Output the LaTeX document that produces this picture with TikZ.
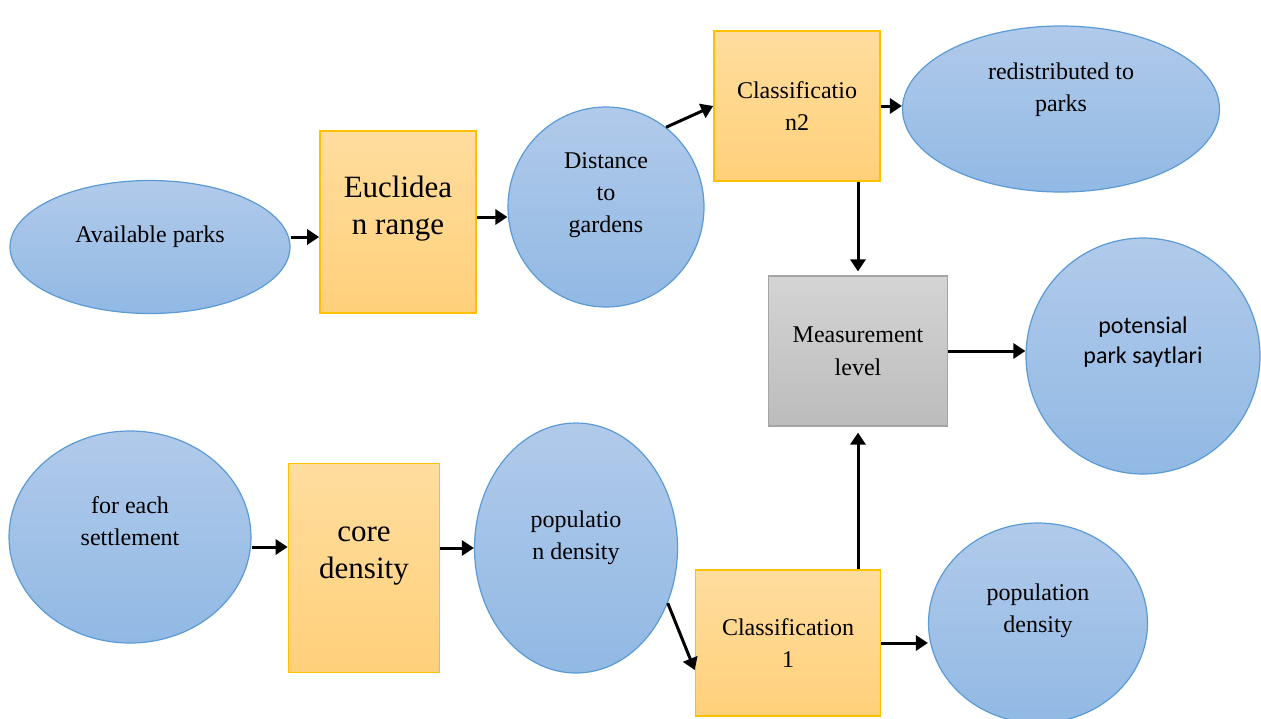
\documentclass[tikz,border=0pt]{standalone}
\usepackage{fontspec}
\setmainfont{Liberation Serif}
\newfontfamily\calibrifont{Carlito}
\usetikzlibrary{shapes.geometric,arrows.meta}
\definecolor{bluetop}{RGB}{177,202,234}
\definecolor{bluebot}{RGB}{145,185,228}
\definecolor{blueline}{RGB}{91,155,213}
\definecolor{orangetop}{RGB}{255,221,158}
\definecolor{orangebot}{RGB}{255,208,122}
\definecolor{orangeline}{RGB}{255,192,0}
\definecolor{graytop}{RGB}{212,212,212}
\definecolor{graybot}{RGB}{188,188,188}
\definecolor{grayline}{RGB}{165,165,165}

\begin{document}
\begin{tikzpicture}[x=0.5pt,y=-0.5pt,>={Triangle[length=6pt,width=7.5pt]},
  blob/.style={ellipse,draw=blueline,line width=0.6pt,top color=bluetop,bottom color=bluebot,inner sep=0pt,align=center,font=\fontsize{12}{16}\selectfont},
  tool/.style={rectangle,draw=orangeline,line width=0.8pt,top color=orangetop,bottom color=orangebot,inner sep=0pt,align=center,font=\fontsize{12}{16}\selectfont},
  big/.style={font=\fontsize{15.5}{18.5}\selectfont},
  level/.style={rectangle,draw=grayline,line width=0.6pt,top color=graytop,bottom color=graybot,inner sep=0pt,align=center,font=\fontsize{12}{16.5}\selectfont},
  lift/.style={text depth=#1},
  link/.style={->,line width=1.5pt}]
\useasboundingbox (0,0) rectangle (1261,718);
\node[blob,minimum width=140pt,minimum height=66.5pt,lift=12.5pt] (avail) at (150,247) {Available parks};
\node[tool,big,minimum width=78pt,minimum height=91pt,lift=17pt] (euclid) at (398,222) {Euclidea\\n range};
\node[blob,minimum width=98pt,minimum height=100pt,lift=14.5pt] (dist) at (606,207) {Distance\\to\\gardens};
\node[tool,minimum width=83pt,minimum height=75pt] (classtwo) at (797,106) {Classificatio\\n2};
\node[blob,minimum width=158.5pt,minimum height=83pt,lift=21.5pt] (redist) at (1061,109) {redistributed to\\parks};
\node[level,minimum width=89.5pt,minimum height=75pt] (measure) at (858,351) {Measurement\\level};
\node[blob,minimum width=117pt,minimum height=118pt,lift=15.5pt,font=\calibrifont\fontsize{12}{15}\selectfont] (potential) at (1143,356) {potensial\\park saytlari};
\node[blob,minimum width=121pt,minimum height=106pt,lift=15.5pt] (settle) at (130,537) {for each\\settlement};
\node[tool,big,minimum width=75.5pt,minimum height=104.5pt,lift=15.5pt] (core) at (364,568) {core\\density};
\node[blob,minimum width=101.5pt,minimum height=125pt,lift=12.5pt] (popd) at (576,548) {populatio\\n density};
\node[tool,minimum width=92.5pt,minimum height=73pt] (classone) at (788,643) {Classification\\1};
\node[blob,minimum width=109.5pt,minimum height=100pt,lift=14.5pt] (popdtwo) at (1038,623) {population\\density};
\draw[link] ([yshift=5pt]avail.east) -- ([yshift=5pt]avail.east -| euclid.west);
\draw[link] ([yshift=2.5pt]euclid.east) -- ([yshift=2.5pt]euclid.east -| dist.west);
\draw[link] (dist.53) -- (classtwo.west);
\draw[link] (classtwo.east) -- (classtwo.east -| redist.west);
\draw[link,shorten >=2pt] (measure.north |- classtwo.south) -- (measure.north);
\draw[link] (measure.east) -- (potential.west |- measure.east);
\draw[link] ([yshift=-5pt]settle.east) -- ([yshift=-5pt]settle.east -| core.west);
\draw[link] (core.east |- popd.west) -- (popd.west);
\draw[link] (popd.-31) -- ([yshift=-13.5pt]classone.west);
\draw[link,shorten >=3pt] (measure.south |- classone.north) -- (measure.south);
\draw[link] (classone.east) -- (classone.east -| popdtwo.west);
\end{tikzpicture}
\end{document}
